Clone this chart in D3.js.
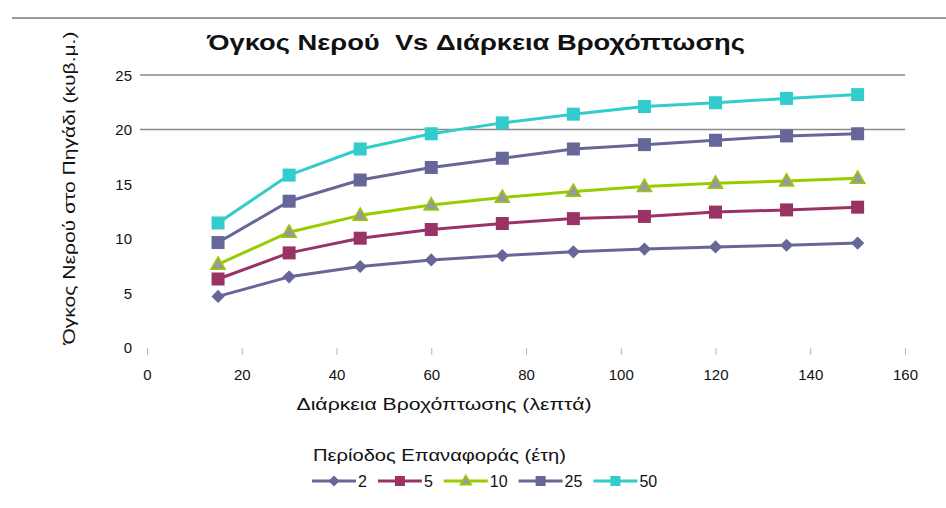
<!DOCTYPE html>
<html>
<head>
<meta charset="utf-8">
<script src="https://cdn.jsdelivr.net/npm/d3@7/dist/d3.min.js"></script>
<style>
  html, body { margin: 0; padding: 0; background: #fff; }
  svg text { font-family: "Liberation Sans", Arial, sans-serif; fill: #111; }
</style>
</head>
<body>
<svg id="chart" width="946" height="508"></svg>
<script>
// Rainfall duration (minutes) on the x axis
const durations = [15, 30, 45, 60, 75, 90, 105, 120, 135, 150];

// Water volume in the well (m³) for each return period (years)
const vol2  = [4.65, 6.45, 7.4, 8.0, 8.4, 8.75, 9.0, 9.2, 9.35, 9.55];
const vol5  = [6.25, 8.65, 10.0, 10.8, 11.35, 11.8, 12.0, 12.4, 12.6, 12.85];
const vol10 = [7.6, 10.55, 12.1, 13.05, 13.75, 14.3, 14.75, 15.05, 15.25, 15.5];
const vol25 = [9.6, 13.4, 15.35, 16.5, 17.35, 18.2, 18.6, 19.0, 19.4, 19.6];
const vol50 = [11.4, 15.8, 18.2, 19.6, 20.6, 21.4, 22.1, 22.45, 22.85, 23.2];

const seriesNames = ["2", "5", "10", "25", "50"];
const xTicks = [0, 20, 40, 60, 80, 100, 120, 140, 160];
const yTicks = [0, 5, 10, 15, 20, 25];
const gridValues = [20, 25];

const titleText = "Όγκος Νερού  Vs Διάρκεια Βροχόπτωσης";
const xTitle = "Διάρκεια Βροχόπτωσης (λεπτά)";
const yTitle = "Όγκος Νερού στο Πηγάδι (κυβ.μ.)";
const legendTitle = "Περίοδος Επαναφοράς (έτη)";

const series = [
  { name: seriesNames[0], values: vol2,  color: "#666699", fill: "#666699", shape: "diamond" },
  { name: seriesNames[1], values: vol5,  color: "#993366", fill: "#993366", shape: "square" },
  { name: seriesNames[2], values: vol10, color: "#99CC00", fill: "#999999", shape: "triangle" },
  { name: seriesNames[3], values: vol25, color: "#666699", fill: "#666699", shape: "square" },
  { name: seriesNames[4], values: vol50, color: "#33CCCC", fill: "#33CCCC", shape: "square" }
];

const svg = d3.select("#chart");

const x = d3.scaleLinear().domain([0, 160]).range([147, 905]);
const y = d3.scaleLinear().domain([0, 25]).range([347, 75]);

// Top rule
svg.append("line")
  .attr("x1", 12).attr("x2", 946).attr("y1", 18).attr("y2", 18)
  .attr("stroke", "#9a9a9a").attr("stroke-width", 2);

// Title
svg.append("text")
  .attr("x", 476).attr("y", 50)
  .attr("text-anchor", "middle")
  .attr("font-size", 22).attr("font-weight", "bold")
  .attr("textLength", 538).attr("lengthAdjust", "spacingAndGlyphs")
  .style("white-space", "pre")
  .text(titleText);

// Horizontal gridlines
svg.append("g").selectAll("line").data(gridValues).join("line")
  .attr("x1", x(0) - 7).attr("x2", x(160))
  .attr("y1", d => y(d)).attr("y2", d => y(d))
  .attr("stroke", "#8a8a8a").attr("stroke-width", 1.5);

// Y axis tick labels
const yAxis = d3.axisLeft(y).tickValues(yTicks).tickSize(0).tickPadding(0);
const gy = svg.append("g").attr("transform", "translate(132,0)").call(yAxis);
gy.select(".domain").remove();
gy.selectAll("text").attr("font-size", 15).attr("dy", "0.36em").attr("x", 0)
  .style("font-family", "'Liberation Sans', Arial, sans-serif").attr("fill", "#111");

// X axis: small tick marks and labels
const xAxis = d3.axisBottom(x).tickValues(xTicks).tickSize(7).tickPadding(14);
const gx = svg.append("g").attr("transform", `translate(0,${y(0) + 1})`).call(xAxis);
gx.select(".domain").remove();
gx.selectAll(".tick line").attr("stroke", "#b5b5b5").attr("stroke-width", 1);
gx.selectAll("text").attr("font-size", 15)
  .style("font-family", "'Liberation Sans', Arial, sans-serif").attr("fill", "#111");

// Axis titles
svg.append("text")
  .attr("x", 444).attr("y", 410)
  .attr("text-anchor", "middle").attr("font-size", 16)
  .attr("textLength", 295).attr("lengthAdjust", "spacingAndGlyphs")
  .text(xTitle);

svg.append("text")
  .attr("transform", "translate(69,188) rotate(-90)")
  .attr("text-anchor", "middle").attr("dominant-baseline", "central")
  .attr("font-size", 16)
  .attr("textLength", 313).attr("lengthAdjust", "spacingAndGlyphs")
  .text(yTitle);

// Marker generator
function marker(g, shape, size, color, fill) {
  if (shape === "square") {
    g.append("rect").attr("x", -size / 2).attr("y", -size / 2)
      .attr("width", size).attr("height", size).attr("fill", fill);
  } else if (shape === "diamond") {
    const s = size * 0.55;
    g.append("path").attr("d", `M0,${-s}L${s},0L0,${s}L${-s},0Z`).attr("fill", fill);
  } else if (shape === "triangle") {
    const h = size * 0.95, w = size * 0.55;
    g.append("path").attr("d", `M0,${-h * 0.6}L${w},${h * 0.4}L${-w},${h * 0.4}Z`)
      .attr("fill", fill).attr("stroke", color).attr("stroke-width", 1.5);
  }
}

const line = d3.line().x((d, i) => x(durations[i])).y(d => y(d));

const plot = svg.append("g");
series.forEach(s => {
  plot.append("path")
    .datum(s.values)
    .attr("d", line)
    .attr("fill", "none")
    .attr("stroke", s.color)
    .attr("stroke-width", 3)
    .attr("stroke-linejoin", "round");
  s.values.forEach((v, i) => {
    const g = plot.append("g").attr("transform", `translate(${x(durations[i])},${y(v)})`);
    marker(g, s.shape, s.shape === "diamond" ? 12 : 13, s.color, s.fill);
  });
});

// Legend
svg.append("text")
  .attr("x", 313).attr("y", 455)
  .attr("dominant-baseline", "central")
  .attr("font-size", 16)
  .attr("textLength", 253).attr("lengthAdjust", "spacingAndGlyphs")
  .text(legendTitle);

let lx = 312;
const ly = 481;
series.forEach(s => {
  const g = svg.append("g");
  g.append("line").attr("x1", lx).attr("x2", lx + 44).attr("y1", ly).attr("y2", ly)
    .attr("stroke", s.color).attr("stroke-width", 3);
  const m = g.append("g").attr("transform", `translate(${lx + 22},${ly})`);
  marker(m, s.shape, s.shape === "diamond" ? 10 : 10, s.color, s.fill);
  const t = g.append("text").attr("x", lx + 46).attr("y", ly)
    .attr("dominant-baseline", "central").attr("font-size", 16).text(s.name);
  lx = lx + 46 + t.node().getComputedTextLength() + 11;
});
</script>
</body>
</html>
